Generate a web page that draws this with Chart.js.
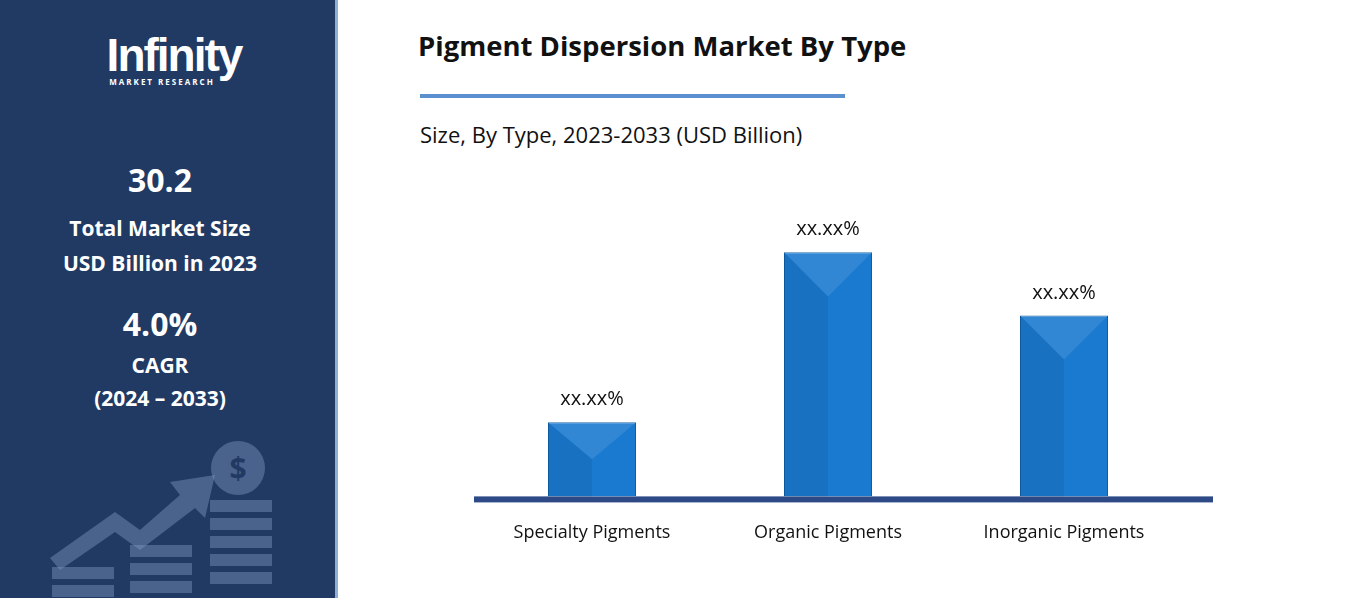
<!DOCTYPE html>
<html><head><meta charset="utf-8">
<script src="https://cdn.jsdelivr.net/npm/chart.js@4"></script>
<style>
body{margin:0;width:1359px;height:598px;background:#fff;position:relative;overflow:hidden;font-family:"Open Sans",Lato,sans-serif}
#side{position:absolute;left:0;top:0;width:335px;height:598px;background:#213a64;border-right:3px solid #8fb0d6}
.t{position:absolute;width:320px;text-align:center;color:#fff;font-weight:bold}
#wrap{position:absolute;left:474px;top:200px;width:740px;height:370px}
</style></head><body>
<div id="side">
 <div class="t" style="top:28px;left:14px;font-size:46px;letter-spacing:-2px;font-family:'Liberation Sans';">Infinity</div>
 <div class="t" style="top:76px;font-size:8px;letter-spacing:2px;left:2px">MARKET RESEARCH</div>
 <div class="t" style="top:158px;font-size:32px">30.2</div>
 <div class="t" style="top:214px;font-size:21px">Total Market Size</div>
 <div class="t" style="top:249px;font-size:21px">USD Billion in 2023</div>
 <div class="t" style="top:302px;font-size:32px">4.0%</div>
 <div class="t" style="top:351px;font-size:21px">CAGR</div>
 <div class="t" style="top:384px;font-size:21px">(2024 – 2033)</div>
 <svg style="position:absolute;left:0;top:440px" width="335" height="158">
  <g fill="rgba(125,150,190,0.45)">
   <circle cx="238" cy="28" r="27"/>
   <rect x="210" y="60" width="62" height="12"/><rect x="210" y="78" width="62" height="12"/><rect x="210" y="96" width="62" height="12"/><rect x="210" y="114" width="62" height="12"/><rect x="210" y="132" width="62" height="12"/>
   <rect x="130" y="105" width="62" height="12"/><rect x="130" y="123" width="62" height="12"/><rect x="130" y="141" width="62" height="12"/>
   <rect x="52" y="127" width="62" height="12"/><rect x="52" y="145" width="62" height="12"/>
   <polygon points="50,118 115,72 140,90 180,55 170,42 215,35 205,78 195,68 140,110 115,92 60,130"/>
  </g>
  <text x="238" y="39" font-size="30" font-weight="bold" text-anchor="middle" fill="#213a64">$</text>
 </svg>
</div>
<div style="position:absolute;left:418px;top:27px;font-size:27.5px;font-weight:bold;color:#111">Pigment Dispersion Market By Type</div>
<div style="position:absolute;left:420px;top:94px;width:425px;height:4px;background:#5b8fd0"></div>
<div style="position:absolute;left:420px;top:119px;font-size:22px;color:#111">Size, By Type, 2023-2033 (USD Billion)</div>
<div id="wrap"><canvas id="c"></canvas></div>
<script>
const categories=["Specialty Pigments","Organic Pigments","Inorganic Pigments"];
const values=[75,247,183];
const labels=["xx.xx%","xx.xx%","xx.xx%"];
const bevel={id:'bevel',beforeDatasetsDraw(ch){const x=ch.ctx,a=ch.chartArea;x.save();x.fillStyle='#2e4a86';x.fillRect(a.left-1,a.bottom,a.right-a.left+32,6);x.restore();},
 afterDatasetsDraw(ch){const x=ch.ctx;ch.getDatasetMeta(0).data.forEach((b,i)=>{
 const l=b.x-b.width/2,r=b.x+b.width/2,t=b.y,bt=b.base,cy=t+Math.min(b.width/2,(bt-t)/2);
 x.save();
 x.fillStyle='rgba(255,255,255,0.10)';x.beginPath();x.moveTo(l,t);x.lineTo(r,t);x.lineTo(b.x,cy);x.closePath();x.fill();
 x.fillStyle='rgba(0,0,0,0.07)';x.beginPath();x.moveTo(l,t);x.lineTo(b.x,cy);x.lineTo(b.x,bt);x.lineTo(l,bt);x.closePath();x.fill();
 x.fillStyle='#111';x.font='20px "Open Sans"';x.textAlign='center';x.fillText(labels[i],b.x,t-17);
 x.restore();});}};
new Chart(document.getElementById('c'),{type:'bar',
 data:{labels:categories,datasets:[{data:values,backgroundColor:'#1a7ad0',borderColor:'#0f5ea8',borderWidth:1,barPercentage:1,categoryPercentage:0.373}]},
 options:{responsive:true,maintainAspectRatio:false,animation:false,layout:{padding:{top:0,right:32}},
  plugins:{legend:{display:false},tooltip:{enabled:false}},
  scales:{y:{display:false,min:0,max:300},
   x:{grid:{display:false,drawTicks:false},border:{display:false},ticks:{color:'#111',font:{size:18,family:'Open Sans'},padding:26}}}},
 plugins:[bevel]});
</script></body></html>
